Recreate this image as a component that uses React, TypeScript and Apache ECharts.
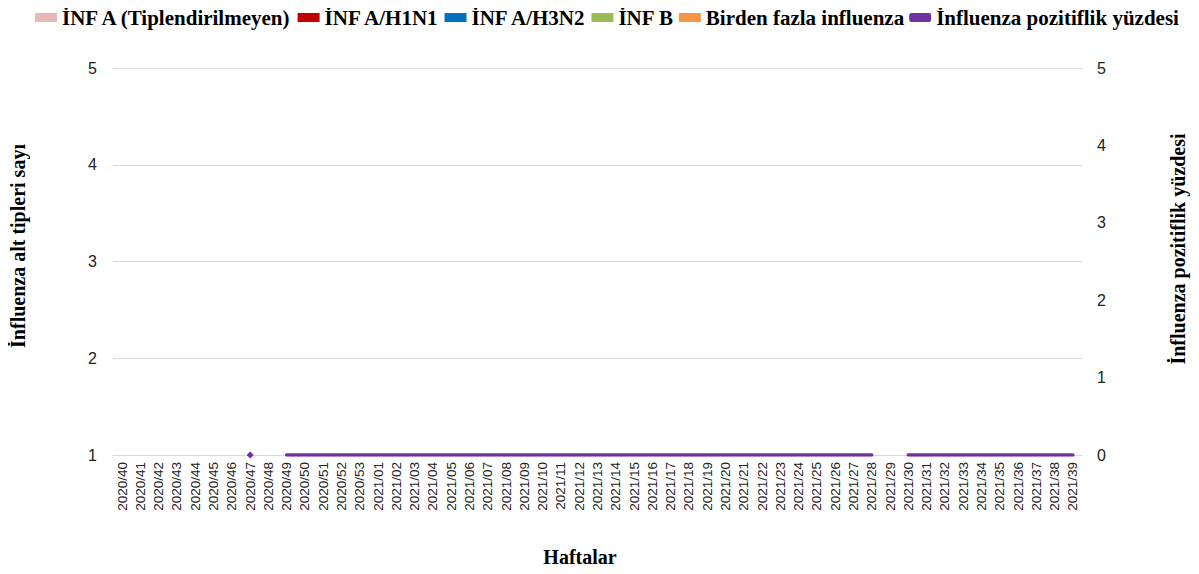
import React, { useEffect, useRef } from "react";
import * as echarts from "echarts";

const weeks: string[] = [
  "2020/40","2020/41","2020/42","2020/43","2020/44","2020/45","2020/46","2020/47","2020/48","2020/49",
  "2020/50","2020/51","2020/52","2020/53","2021/01","2021/02","2021/03","2021/04","2021/05","2021/06",
  "2021/07","2021/08","2021/09","2021/10","2021/11","2021/12","2021/13","2021/14","2021/15","2021/16",
  "2021/17","2021/18","2021/19","2021/20","2021/21","2021/22","2021/23","2021/24","2021/25","2021/26",
  "2021/27","2021/28","2021/29","2021/30","2021/31","2021/32","2021/33","2021/34","2021/35","2021/36",
  "2021/37","2021/38","2021/39",
];

const N = null;
const infAUntyped: (number | null)[] = [0,0,0,0,0,0,0,0,0,0,0,0,0,0,0,0,0,0,0,0,0,0,0,0,0,0,0,0,0,0,0,0,0,0,0,0,0,0,0,0,0,0,0,0,0,0,0,0,0,0,0,0,0];
const infAH1N1: (number | null)[] = [0,0,0,0,0,0,0,0,0,0,0,0,0,0,0,0,0,0,0,0,0,0,0,0,0,0,0,0,0,0,0,0,0,0,0,0,0,0,0,0,0,0,0,0,0,0,0,0,0,0,0,0,0];
const infAH3N2: (number | null)[] = [0,0,0,0,0,0,0,0,0,0,0,0,0,0,0,0,0,0,0,0,0,0,0,0,0,0,0,0,0,0,0,0,0,0,0,0,0,0,0,0,0,0,0,0,0,0,0,0,0,0,0,0,0];
const infB: (number | null)[] = [0,0,0,0,0,0,0,0,0,0,0,0,0,0,0,0,0,0,0,0,0,0,0,0,0,0,0,0,0,0,0,0,0,0,0,0,0,0,0,0,0,0,0,0,0,0,0,0,0,0,0,0,0];
const multiInf: (number | null)[] = [0,0,0,0,0,0,0,0,0,0,0,0,0,0,0,0,0,0,0,0,0,0,0,0,0,0,0,0,0,0,0,0,0,0,0,0,0,0,0,0,0,0,0,0,0,0,0,0,0,0,0,0,0];
const positivity: (number | null)[] = [
  N,N,N,N,N,N,N,0,N,0,
  0,0,0,0,0,0,0,0,0,0,
  0,0,0,0,0,0,0,0,0,0,
  0,0,0,0,0,0,0,0,0,0,
  0,0,N,0,0,0,0,0,0,0,
  0,0,0,
];

const leftTicks = [1, 5];
const rightTicks = [0, 5];

const serif = "'Liberation Serif', 'DejaVu Serif', serif";
const sans = "'Liberation Sans', Arial, sans-serif";

export default function App() {
  const ref = useRef<HTMLDivElement>(null);
  useEffect(() => {
    if (!ref.current) return;
    const chart = echarts.init(ref.current, null, { renderer: "svg" });
    const lineData = positivity.map((v, i) => {
      const isolated =
        v !== null &&
        (i === 0 || positivity[i - 1] === null) &&
        (i === positivity.length - 1 || positivity[i + 1] === null);
      return { value: v, symbolSize: isolated ? 7 : 0 };
    });
    const bar = (name: string, data: (number | null)[], color: string) => ({
      name,
      type: "bar",
      stack: "s",
      yAxisIndex: 0,
      data,
      clip: true,
      itemStyle: { color },
    });
    const titleStyle = { fontFamily: serif, fontWeight: "bold", fontSize: 20, fill: "#000", align: "center", verticalAlign: "middle" };
    chart.setOption({
      animation: false,
      legend: {
        top: 2,
        left: 30,
        itemWidth: 22,
        itemHeight: 9,
        itemGap: 5,
        textStyle: { fontFamily: serif, fontWeight: "bold", fontSize: 21, color: "#000" },
        data: [
          { name: "İNF A (Tiplendirilmeyen)", icon: "rect" },
          { name: "İNF A/H1N1", icon: "rect" },
          { name: "İNF A/H3N2", icon: "rect" },
          { name: "İNF B", icon: "rect" },
          { name: "Birden fazla influenza", icon: "rect" },
          { name: "İnfluenza pozitiflik yüzdesi", icon: "roundRect", itemStyle: { color: "#7030A0" } },
        ],
      },
      grid: { left: 113, right: 117, top: 68, bottom: 119 },
      xAxis: {
        type: "category",
        data: weeks,
        boundaryGap: true,
        axisLine: { lineStyle: { color: "#d9d9d9" } },
        axisTick: { show: false },
        axisLabel: {
          rotate: 90,
          interval: 0,
          fontFamily: sans,
          fontSize: 13.5,
          color: "#222",
          margin: 7,
        },
      },
      yAxis: [
        {
          type: "value",
          min: leftTicks[0],
          max: leftTicks[1],
          interval: 1,
          axisLine: { show: false },
          axisTick: { show: false },
          axisLabel: { fontFamily: sans, fontSize: 16, color: "#222", margin: 16 },
          splitLine: { lineStyle: { color: "#d9d9d9" } },
        },
        {
          type: "value",
          min: rightTicks[0],
          max: rightTicks[1],
          interval: 1,
          axisLine: { show: false },
          axisTick: { show: false },
          axisLabel: { fontFamily: sans, fontSize: 16, color: "#222", margin: 15 },
          splitLine: { show: false },
        },
      ],
      graphic: [
        {
          type: "text",
          x: 580,
          y: 557,
          style: { ...titleStyle, text: "Haftalar" },
        },
        {
          type: "text",
          x: 18,
          y: 246,
          rotation: Math.PI / 2,
          style: { ...titleStyle, text: "İnfluenza alt tipleri sayı" },
        },
        {
          type: "text",
          x: 1178,
          y: 249,
          rotation: Math.PI / 2,
          style: { ...titleStyle, text: "İnfluenza pozitiflik yüzdesi" },
        },
      ],
      series: [
        bar("İNF A (Tiplendirilmeyen)", infAUntyped, "#E6B9B8"),
        bar("İNF A/H1N1", infAH1N1, "#C00000"),
        bar("İNF A/H3N2", infAH3N2, "#0070C0"),
        bar("İNF B", infB, "#9BBB59"),
        bar("Birden fazla influenza", multiInf, "#F79646"),
        {
          name: "İnfluenza pozitiflik yüzdesi",
          type: "line",
          yAxisIndex: 1,
          data: lineData,
          symbol: "diamond",
          showSymbol: true,
          connectNulls: false,
          lineStyle: { color: "#7030A0", width: 3.5, cap: "round" },
          itemStyle: { color: "#7030A0" },
        },
      ],
    });
    return () => chart.dispose();
  }, []);
  return <div ref={ref} style={{ width: 1199, height: 574, margin: -8 }} />;
}
